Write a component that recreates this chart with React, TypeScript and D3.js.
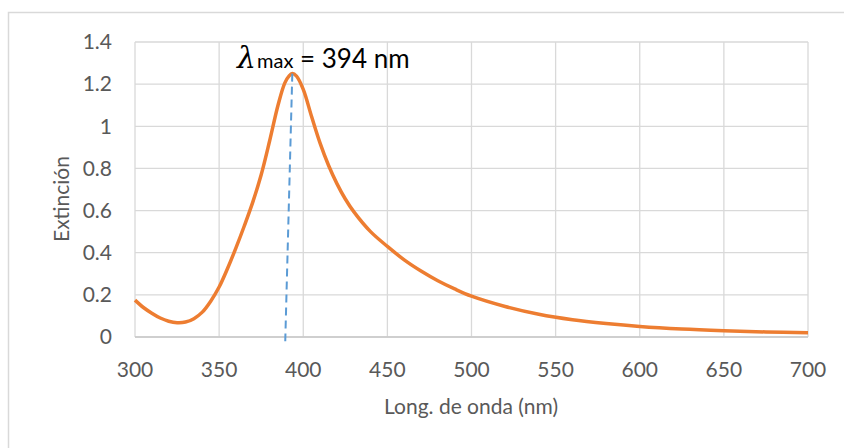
import React from "react";
import * as d3 from "d3";

const wavelengths = [300, 305, 310, 315, 320, 325, 330, 335, 340, 345, 350, 355, 360, 365, 370, 375, 380, 385, 389, 391.5, 393.5, 396, 400, 405, 410, 415, 420, 425, 430, 440, 450, 460, 470, 480, 490, 500, 520, 540, 560, 580, 600, 625, 650, 675, 700];
const extinction = [0.175, 0.14, 0.113, 0.09, 0.075, 0.068, 0.071, 0.087, 0.118, 0.17, 0.237, 0.325, 0.423, 0.528, 0.64, 0.77, 0.93, 1.1, 1.205, 1.238, 1.25, 1.238, 1.175, 1.045, 0.92, 0.815, 0.728, 0.655, 0.595, 0.5, 0.43, 0.366, 0.313, 0.267, 0.228, 0.194, 0.145, 0.108, 0.082, 0.064, 0.05, 0.038, 0.03, 0.024, 0.02];

const xTicks = [300, 350, 400, 450, 500, 550, 600, 650, 700];
const yTicks = [0, 0.2, 0.4, 0.6, 0.8, 1, 1.2, 1.4];
const markerX = [393.5, 389.3];
const markerY = [1.25, -0.02];

const W = 844;
const H = 448;
const FONT = "Lato, 'Open Sans', sans-serif";

export default function App() {
  const x = d3.scaleLinear().domain([300, 700]).range([135, 808]);
  const y = d3.scaleLinear().domain([0, 1.4]).range([337, 42]);
  const pts: [number, number][] = wavelengths.map((w, i) => [w, extinction[i]]);
  const line = d3
    .line<[number, number]>()
    .x((d) => x(d[0]))
    .y((d) => y(d[1]))
    .curve(d3.curveCatmullRom.alpha(0.5));
  const fmt = (v: number) => (v === 0 ? "0" : String(+v.toFixed(1)));

  return (
    <svg
      width={W}
      height={H}
      style={{ position: "absolute", left: 0, top: 0, fontFamily: FONT }}
    >
      <rect x={0} y={0} width={W} height={H} fill="#fff" />
      <path d={`M8.5,${H}V12.5H${W}`} fill="none" stroke="#D9D9D9" strokeWidth={1.5} />
      {yTicks.map((t) => (
        <line key={"gy" + t} x1={x(300)} x2={x(700)} y1={y(t)} y2={y(t)} stroke="#D9D9D9" strokeWidth={1.3} />
      ))}
      {xTicks.map((t) => (
        <line key={"gx" + t} x1={x(t)} x2={x(t)} y1={y(0)} y2={y(1.4)} stroke="#D9D9D9" strokeWidth={1.3} />
      ))}
      <line x1={x(300)} x2={x(700)} y1={y(0)} y2={y(0)} stroke="#C8C8C8" strokeWidth={1.5} />
      {yTicks.map((t) => (
        <text key={"ty" + t} x={112} y={y(t)} dy="0.35em" textAnchor="end" fontSize={21} fill="#595959">
          {fmt(t)}
        </text>
      ))}
      {xTicks.map((t) => (
        <text key={"tx" + t} x={x(t)} y={377} textAnchor="middle" fontSize={21} fill="#595959">
          {t}
        </text>
      ))}
      <text x={471} y={414} textAnchor="middle" fontSize={21} fill="#595959">
        Long. de onda (nm)
      </text>
      <text transform="translate(69,199) rotate(-90)" textAnchor="middle" fontSize={21} fill="#595959">
        Extinción
      </text>
      <path d={line(pts) || ""} fill="none" stroke="#ED7D31" strokeWidth={3.5} strokeLinejoin="round" />
      <line
        x1={x(markerX[0])}
        y1={y(markerY[0])}
        x2={x(markerX[1])}
        y2={y(markerY[1])}
        stroke="#5B9BD5"
        strokeWidth={2}
        strokeDasharray="8,5"
      />
      <text x={237} y={68} fill="#000">
        <tspan fontSize={30} fontStyle="italic" fontFamily="'DejaVu Serif', serif">λ</tspan>
        <tspan fontSize={20} dx={1}>max</tspan>
        <tspan fontSize={26}> = 394 nm</tspan>
      </text>
    </svg>
  );
}
